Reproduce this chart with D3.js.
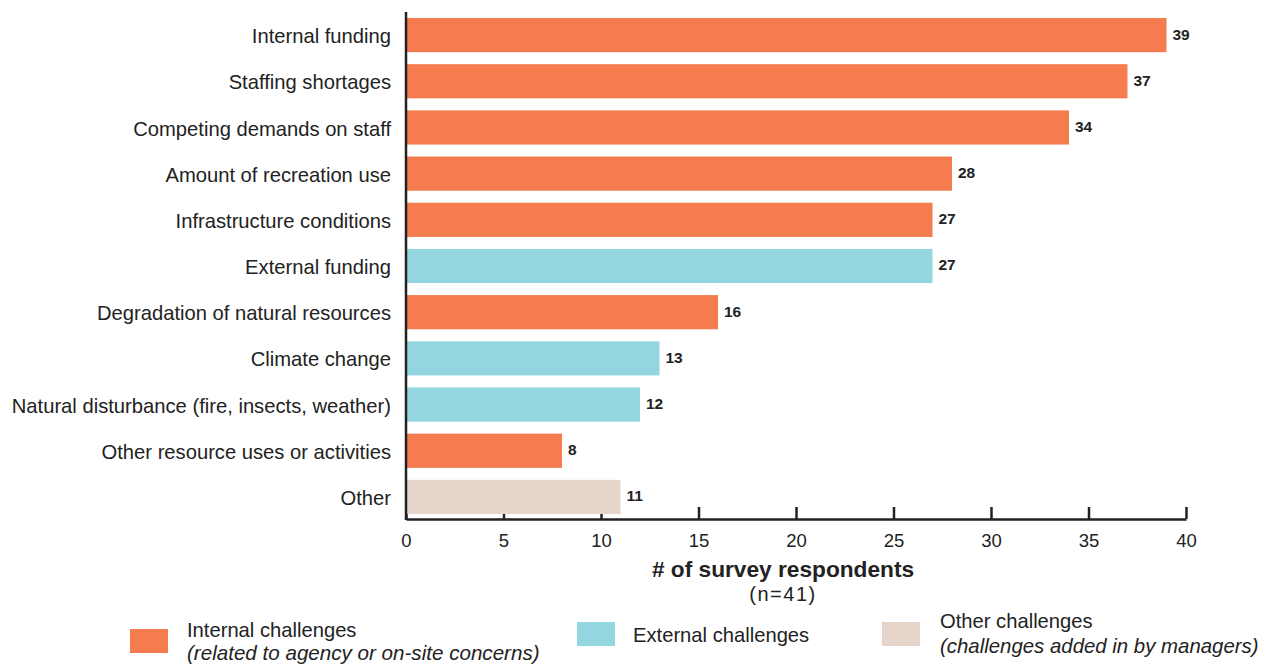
<!DOCTYPE html>
<html>
<head>
<meta charset="utf-8">
<script src="https://cdn.jsdelivr.net/npm/d3@7"></script>
<style>
  html, body { margin: 0; padding: 0; background: #fff; }
  svg { display: block; font-family: "Liberation Sans", Arial, Helvetica, sans-serif; }
</style>
</head>
<body>
<svg id="chart" width="1272" height="665"></svg>
<script>
// Challenges reported by managers, by number of survey respondents
const categories = [
  "Internal funding",
  "Staffing shortages",
  "Competing demands on staff",
  "Amount of recreation use",
  "Infrastructure conditions",
  "External funding",
  "Degradation of natural resources",
  "Climate change",
  "Natural disturbance (fire, insects, weather)",
  "Other resource uses or activities",
  "Other"
];
const counts = [39, 37, 34, 28, 27, 27, 16, 13, 12, 8, 11];
const groups = ["internal", "internal", "internal", "internal", "internal", "external",
                "internal", "external", "external", "internal", "other"];
const xTicks = [0, 5, 10, 15, 20, 25, 30, 35, 40];

const groupKeys = ["internal", "external", "other"];
const groupColors = ["#F47C4E", "#93D6DF", "#E6D5CA"];

const svg = d3.select("#chart");
const ink = "#222";

const x = d3.scaleLinear().domain([0, 40]).range([406, 1186]);
const y = d3.scaleBand().domain(categories).range([12, 520])
  .paddingInner(0.26).paddingOuter(0.13);
const color = d3.scaleOrdinal().domain(groupKeys).range(groupColors);

const rows = categories.map((c, i) => ({ cat: c, value: counts[i], group: groups[i] }));

// Bottom axis: ticks point up into the plot
const xAxis = d3.axisBottom(x).tickValues(xTicks).tickSizeInner(-12).tickSizeOuter(0).tickPadding(0);
const gx = svg.append("g").attr("transform", "translate(0,519)").call(xAxis);
gx.select(".domain").attr("stroke", ink).attr("stroke-width", 2.5);
gx.selectAll(".tick line").attr("stroke", ink).attr("stroke-width", 2.5);
gx.selectAll(".tick text")
  .attr("y", 28).attr("dy", 0)
  .attr("fill", ink).attr("font-size", 18.5)
  .style("font-family", "'Liberation Sans', Arial, sans-serif");

// Bars
svg.append("g").selectAll("rect").data(rows).join("rect")
  .attr("x", x(0) + 1)
  .attr("y", d => y(d.cat))
  .attr("width", d => x(d.value) - x(0) - 1)
  .attr("height", y.bandwidth())
  .attr("fill", d => color(d.group));

// Left axis line
svg.append("line")
  .attr("x1", x(0)).attr("x2", x(0))
  .attr("y1", 12).attr("y2", 520)
  .attr("stroke", ink).attr("stroke-width", 2.5);

// Category labels
svg.append("g").selectAll("text").data(rows).join("text")
  .attr("x", 391)
  .attr("y", d => y(d.cat) + y.bandwidth() / 2 + 1)
  .attr("dy", "0.35em")
  .attr("text-anchor", "end")
  .attr("font-size", 20.2)
  .attr("fill", ink)
  .text(d => d.cat);

// Value labels
svg.append("g").selectAll("text").data(rows).join("text")
  .attr("x", d => x(d.value) + 6)
  .attr("y", d => y(d.cat) + y.bandwidth() / 2 - 1)
  .attr("dy", "0.35em")
  .attr("font-size", 15.5)
  .attr("font-weight", "bold")
  .attr("fill", ink)
  .text(d => d.value);

// Axis title
svg.append("text")
  .attr("x", 783).attr("y", 577)
  .attr("text-anchor", "middle")
  .attr("font-size", 22.7).attr("font-weight", "bold").attr("fill", ink)
  .text("# of survey respondents");
svg.append("text")
  .attr("x", 783).attr("y", 601)
  .attr("text-anchor", "middle")
  .attr("font-size", 20).attr("letter-spacing", 1.5).attr("fill", ink)
  .text("(n=41)");

// Legend
const legend = [
  { key: "internal", sx: 130, sy: 629, tx: 187, lines: [["Internal challenges", 637, false, 20.2], ["(related to agency or on-site concerns)", 660, true, 20.6]] },
  { key: "external", sx: 577, sy: 622, tx: 633, lines: [["External challenges", 642, false, 20.2]] },
  { key: "other", sx: 882, sy: 622, tx: 940, lines: [["Other challenges", 628, false, 20.2], ["(challenges added in by managers)", 653, true, 20.4]] }
];
const lg = svg.append("g").selectAll("g").data(legend).join("g");
lg.append("rect")
  .attr("x", d => d.sx).attr("y", d => d.sy)
  .attr("width", 38).attr("height", 24)
  .attr("fill", d => color(d.key));
lg.each(function(d) {
  d3.select(this).selectAll("text").data(d.lines).join("text")
    .attr("x", d.tx).attr("y", l => l[1])
    .attr("font-size", l => l[3])
    .attr("font-style", l => l[2] ? "italic" : "normal")
    .attr("fill", ink)
    .text(l => l[0]);
});
</script>
</body>
</html>
